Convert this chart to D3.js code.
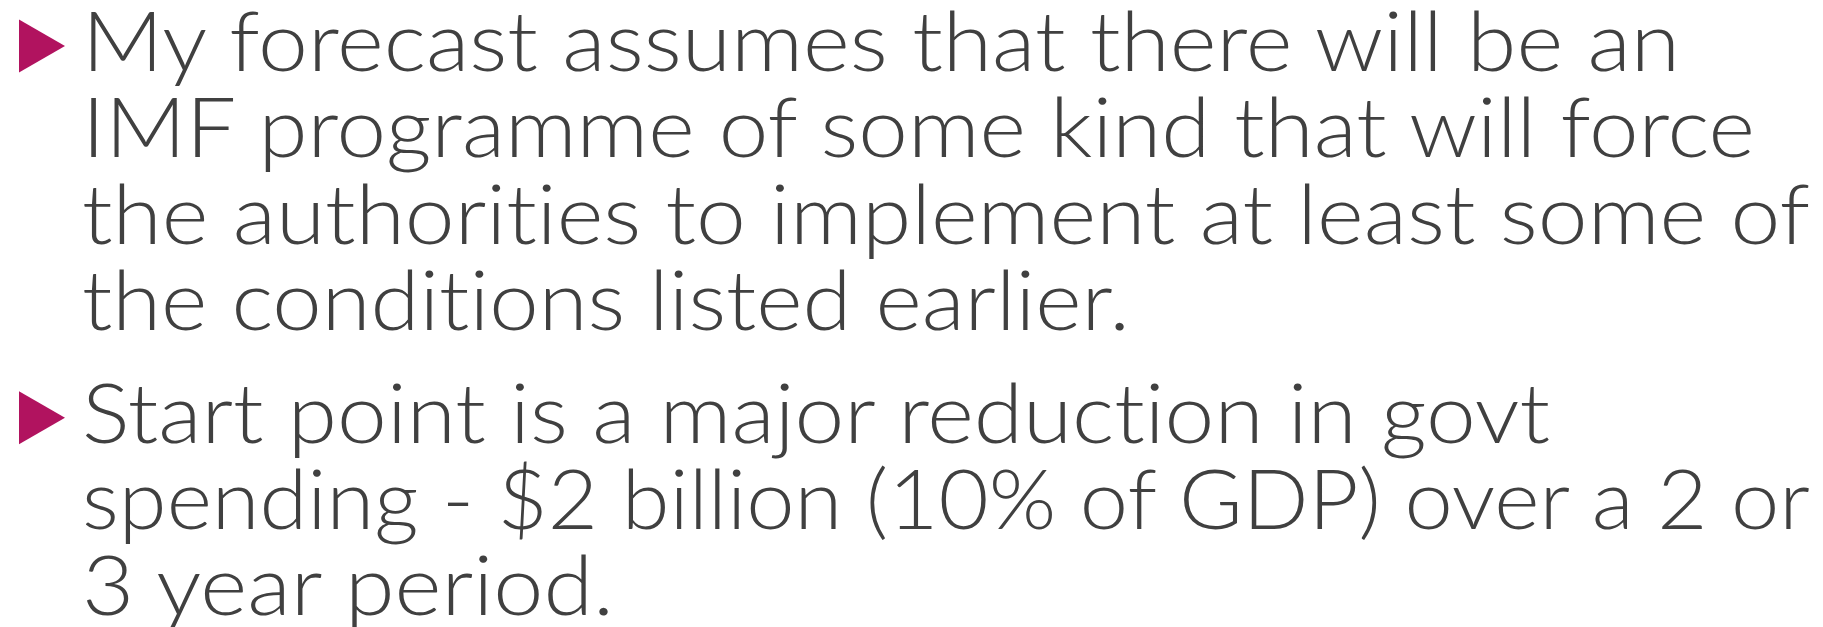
<!DOCTYPE html>
<html>
<head>
<meta charset="utf-8">
<script src="https://cdn.jsdelivr.net/npm/d3@7"></script>
<style>
  html, body { margin: 0; padding: 0; background: #ffffff; }
  svg { display: block; }
  text.line { font-variant-ligatures: none; font-feature-settings: "liga" 0, "clig" 0; }
</style>
</head>
<body>
<script>
// Content
const bullet1Lines = [
  "My forecast assumes that there will be an",
  "IMF programme of some kind that will force",
  "the authorities to implement at least some of",
  "the conditions listed earlier."
];
const bullet2Lines = [
  "Start point is a major reduction in govt",
  "spending - $2 billion (10% of GDP) over a 2 or",
  "3 year period."
];
const bullets = [bullet1Lines, bullet2Lines];

// Layout (right edge of each rendered line, px)
const lineEnds = [1680, 1755, 1810, 1130, 1550, 1810, 614];

const W = 1823, H = 627;
const textX = 82;
const firstBaseline = 71, lineStep = 86.3, paraGap = 26.5;
const fontSize = 82;
const textColor = "#404040";
const bulletColor = "#B1135F";

const svg = d3.select("body").append("svg")
  .attr("width", W).attr("height", H);

const rows = [];
bullets.forEach((lines, p) => lines.forEach((t, i) => rows.push({ text: t, para: p, first: i === 0 })));
rows.forEach((r, k) => { r.idx = k; r.end = lineEnds[k]; });

const y = d3.scaleLinear().domain([0, 1]).range([firstBaseline, firstBaseline + lineStep]);
const baseline = r => y(r.idx) + r.para * paraGap;

svg.selectAll("text.line").data(rows).join("text")
  .attr("class", "line")
  .attr("x", textX)
  .attr("y", baseline)
  .attr("font-family", "Lato, 'Open Sans', sans-serif")
  .attr("font-weight", 300)
  .attr("font-size", fontSize)
  .attr("fill", textColor)
  .attr("textLength", d => d.end - textX)
  .attr("lengthAdjust", "spacingAndGlyphs")
  .text(d => d.text);

const triW = 46, triH = 53;
svg.selectAll("path.bullet").data(rows.filter(r => r.first)).join("path")
  .attr("class", "bullet")
  .attr("fill", bulletColor)
  .attr("d", d => {
    const cy = baseline(d) - 25;
    const x0 = 19;
    return `M${x0},${cy - triH / 2}L${x0 + triW},${cy}L${x0},${cy + triH / 2}Z`;
  });
</script>
</body>
</html>
